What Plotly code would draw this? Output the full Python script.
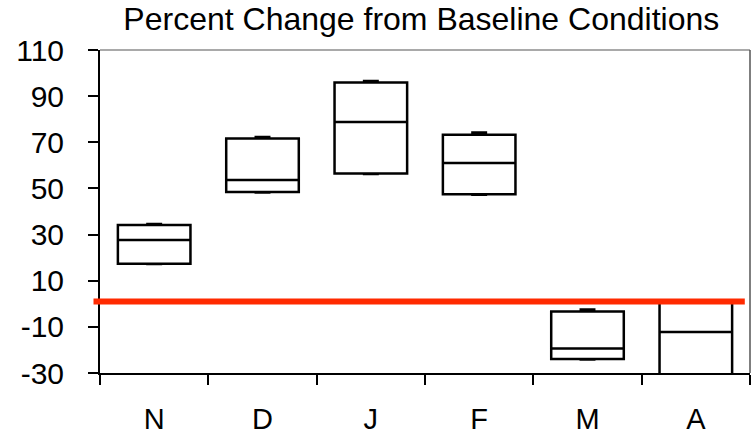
import plotly.graph_objects as go

# Monthly distribution of percent change from baseline
months = ["N", "D", "J", "F", "M", "A"]
upper = [34.6, 72.3, 96.6, 74.2, -2.5, 1.5]
q3 = [34.2, 71.6, 95.9, 73.3, -3.3, 1.5]
median = [27.7, 53.7, 78.8, 61.0, -19.4, -12.2]
q1 = [17.4, 48.4, 56.5, 47.5, -23.9, -36.0]
lower = [17.2, 48.2, 56.3, 47.3, -24.1, -40.0]

baseline = 1.0
y_ticks = [-30, -10, 10, 30, 50, 70, 90, 110]
y_labels = [str(v) for v in y_ticks]

font_family = "Liberation Sans, Arial, sans-serif"

fig = go.Figure()
fig.add_trace(go.Box(
    x=months,
    q1=q1,
    median=median,
    q3=q3,
    lowerfence=lower,
    upperfence=upper,
    line=dict(color="black", width=2.5),
    fillcolor="rgba(255,255,255,0)",
    whiskerwidth=0.22,
    boxpoints=False,
    showlegend=False,
    hoverinfo="skip",
))

# Baseline reference line
fig.add_shape(type="line", xref="paper", yref="y",
              x0=-0.01, x1=0.992, y0=baseline, y1=baseline,
              line=dict(color="#ff2a00", width=6), layer="above")

# Light frame on top and right
fig.add_shape(type="line", xref="paper", yref="paper",
              x0=0, x1=1, y0=1, y1=1, line=dict(color="#8c8c8c", width=1.5))
fig.add_shape(type="line", xref="paper", yref="paper",
              x0=1, x1=1, y0=0, y1=1, line=dict(color="#555555", width=1.5))

fig.update_layout(
    width=751, height=435,
    margin=dict(l=100, r=1, t=50, b=62),
    paper_bgcolor="white", plot_bgcolor="white",
    font=dict(family=font_family, color="black", size=30),
    title=dict(text="Percent Change from Baseline Conditions",
               x=0.561, xanchor="center", y=1 - 19 / 435, yanchor="middle",
               font=dict(size=32, color="black")),
    boxgap=0.33,
    boxgroupgap=0,
)
fig.update_xaxes(
    type="category", categoryorder="array", categoryarray=months,
    automargin=False,
    showgrid=False, zeroline=False,
    showline=True, linecolor="black", linewidth=2,
    ticks="outside", tickson="boundaries", ticklen=10, tickwidth=2, tickcolor="black",
    ticklabelstandoff=19,
    tickfont=dict(size=29),
)
fig.update_yaxes(
    range=[-30, 110], tickvals=y_ticks, ticktext=y_labels,
    automargin=False,
    showgrid=False, zeroline=False,
    showline=True, linecolor="black", linewidth=2,
    ticks="outside", ticklen=10, tickwidth=2, tickcolor="black",
    ticklabelstandoff=18,
    tickfont=dict(size=30),
)

fig.write_html("out.html")
